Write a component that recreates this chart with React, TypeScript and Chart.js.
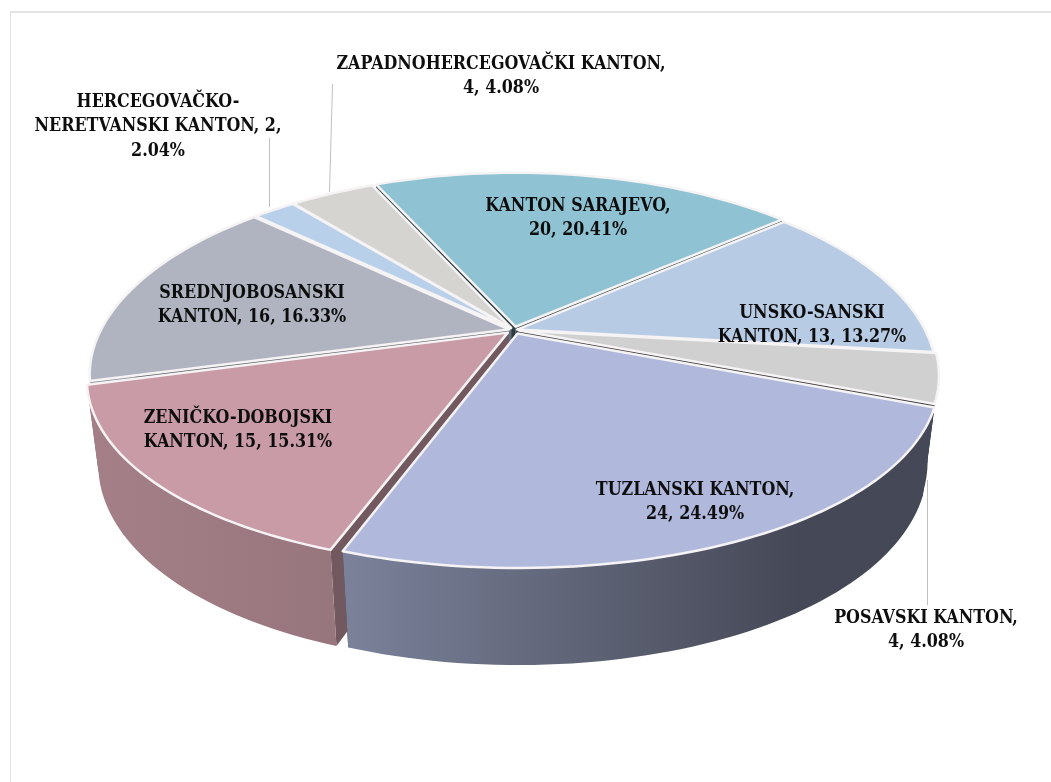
import React, { useEffect, useRef } from "react";
import { Chart, registerables } from "chart.js";
Chart.register(...registerables);

const categories = [
  "UNSKO-SANSKI KANTON",
  "POSAVSKI KANTON",
  "TUZLANSKI KANTON",
  "ZENIČKO-DOBOJSKI KANTON",
  "SREDNJOBOSANSKI KANTON",
  "HERCEGOVAČKO-NERETVANSKI KANTON",
  "ZAPADNOHERCEGOVAČKI KANTON",
  "KANTON SARAJEVO",
];
const values = [13, 4, 24, 15, 16, 2, 4, 20];
const percents = ["13.27%", "4.08%", "24.49%", "15.31%", "16.33%", "2.04%", "4.08%", "20.41%"];

const colors = ["#b7cbe4", "#d0d0d0", "#b0b9dc", "#c89ba6", "#b0b3c0", "#b9d0ea", "#d5d4d0", "#8fc3d3"];
const offsets = [3, 5, 8, 8, 5, 5, 5, 7];
// wall shading [x0, x1, factor0, factor1]
const wallShade = [
  [500, 940, 0.5, 0.4],
  [900, 940, 0.36, 0.36],
  [340, 800, 0.7, 0.39],
  [90, 330, 0.82, 0.76],
  [90, 330, 0.8, 0.75],
  [90, 330, 0.7, 0.7],
  [90, 330, 0.7, 0.7],
  [300, 800, 0.4, 0.4],
];

// [center x, first line y, line breaks]
const labelLayout: [number, number, string[]][] = [
  [812, 313, ["UNSKO-SANSKI", "KANTON, 13, 13.27%"]],
  [926, 618, ["POSAVSKI KANTON,", "4, 4.08%"]],
  [695, 490, ["TUZLANSKI KANTON,", "24, 24.49%"]],
  [238, 418, ["ZENIČKO-DOBOJSKI", "KANTON, 15, 15.31%"]],
  [252, 293, ["SREDNJOBOSANSKI", "KANTON, 16, 16.33%"]],
  [158, 102, ["HERCEGOVAČKO-", "NERETVANSKI KANTON, 2,", "2.04%"]],
  [501, 64, ["ZAPADNOHERCEGOVAČKI KANTON,", "4, 4.08%"]],
  [578, 206, ["KANTON SARAJEVO,", "20, 20.41%"]],
];
const leaders = [
  [269, 138, 269, 207],
  [332, 84, 329, 192],
  [927, 480, 927, 605],
];

const CX = 514, CY = 330, A = 408, B = 186, KX = 0.23, KY = 0.2, D = 86, Q = 0.026;

function project(u: number, v: number, bottom: boolean) {
  const q = bottom ? Q : 0;
  const sx = 1 / (1 - KX * v + q);
  const sy = 1 / (1 - KY * v + q);
  return { x: CX + A * u * sx, y: CY + (B * v + (bottom ? D : 0)) * sy };
}

function shade(hex: string, f: number) {
  const n = parseInt(hex.slice(1), 16);
  const c = [(n >> 16) & 255, (n >> 8) & 255, n & 255].map((x) => Math.round(x * f));
  return `rgb(${c[0]},${c[1]},${c[2]})`;
}

function pathOf(ctx: CanvasRenderingContext2D, pts: { x: number; y: number }[]) {
  ctx.beginPath();
  pts.forEach((p, i) => (i ? ctx.lineTo(p.x, p.y) : ctx.moveTo(p.x, p.y)));
  ctx.closePath();
}

const projectedPie = {
  id: "projectedPie",
  beforeDatasetsDraw(chart: any) {
    const ctx: CanvasRenderingContext2D = chart.ctx;
    const arcs = chart.getDatasetMeta(0).data as any[];
    const items = arcs.map((arc, i) => {
      const { startAngle, endAngle, outerRadius } = arc.getProps(["startAngle", "endAngle", "outerRadius"], true);
      const mid = (startAngle + endAngle) / 2;
      const e = arc.options.offset / outerRadius;
      return { i, startAngle, endAngle, mid, e, order: Math.sin(mid) };
    });
    items.sort((a, b) => a.order - b.order);
    ctx.save();
    ctx.lineJoin = "round";
    for (const it of items) {
      const ou = Math.cos(it.mid) * it.e, ov = Math.sin(it.mid) * it.e;
      const rim = (bottom: boolean) => {
        const pts = [];
        const n = Math.max(8, Math.ceil((it.endAngle - it.startAngle) * 40));
        for (let j = 0; j <= n; j++) {
          const t = it.startAngle + ((it.endAngle - it.startAngle) * j) / n;
          pts.push(project(ou + Math.cos(t), ov + Math.sin(t), bottom));
        }
        return pts;
      };
      const topRim = rim(false), botRim = rim(true);
      const cTop = project(ou, ov, false), cBot = project(ou, ov, true);
      const [x0, x1, f0, f1] = wallShade[it.i];
      const g = ctx.createLinearGradient(x0, 0, x1, 0);
      g.addColorStop(0, shade(colors[it.i], f0));
      g.addColorStop(1, shade(colors[it.i], f1));
      // cut faces
      ctx.fillStyle = shade(colors[it.i], Math.min(f0, f1) * 0.75);
      pathOf(ctx, [cTop, topRim[0], botRim[0], cBot]);
      ctx.fill();
      pathOf(ctx, [cTop, topRim[topRim.length - 1], botRim[botRim.length - 1], cBot]);
      ctx.fill();
      // outer wall
      ctx.fillStyle = g;
      pathOf(ctx, [...topRim, ...[...botRim].reverse()]);
      ctx.fill();
      // top face
      ctx.fillStyle = colors[it.i];
      pathOf(ctx, [cTop, ...topRim]);
      ctx.fill();
      ctx.strokeStyle = "#f6f3f5";
      ctx.lineWidth = 2.5;
      ctx.stroke();
    }
    ctx.restore();
    return false;
  },
  afterDraw(chart: any) {
    const ctx: CanvasRenderingContext2D = chart.ctx;
    ctx.save();
    ctx.fillStyle = "#e4e4e4";
    ctx.fillRect(10, 11, 1041, 2);
    ctx.fillStyle = "#e2e2e2";
    ctx.fillRect(10, 11, 1, 771);
    ctx.strokeStyle = "#bfbfbf";
    ctx.lineWidth = 1;
    for (const [a, b, c, d] of leaders) {
      ctx.beginPath();
      ctx.moveTo(a + 0.5, b);
      ctx.lineTo(c + 0.5, d);
      ctx.stroke();
    }
    ctx.fillStyle = "#0d0d0d";
    ctx.font = "bold 17.7px 'DejaVu Serif Condensed', 'DejaVu Serif'";
    ctx.textAlign = "center";
    ctx.textBaseline = "middle";
    for (const [x, y, lines] of labelLayout) {
      lines.forEach((l, i) => ctx.fillText(l, x, y + i * 24.5));
    }
    ctx.restore();
  },
};

export default function App() {
  const ref = useRef<HTMLCanvasElement>(null);
  useEffect(() => {
    document.body.style.margin = "0";
    const chart = new Chart(ref.current!, {
      type: "pie",
      data: {
        labels: categories,
        datasets: [{ data: values, backgroundColor: colors, offset: offsets, borderWidth: 0 }],
      },
      options: {
        animation: false,
        responsive: false,
        rotation: 49,
        plugins: { legend: { display: false }, tooltip: { enabled: false } },
      },
      plugins: [projectedPie],
    } as any);
    return () => chart.destroy();
  }, []);
  return <canvas ref={ref} width={1051} height={782} style={{ display: "block" }} data-percents={percents.join(" ")} />;
}
